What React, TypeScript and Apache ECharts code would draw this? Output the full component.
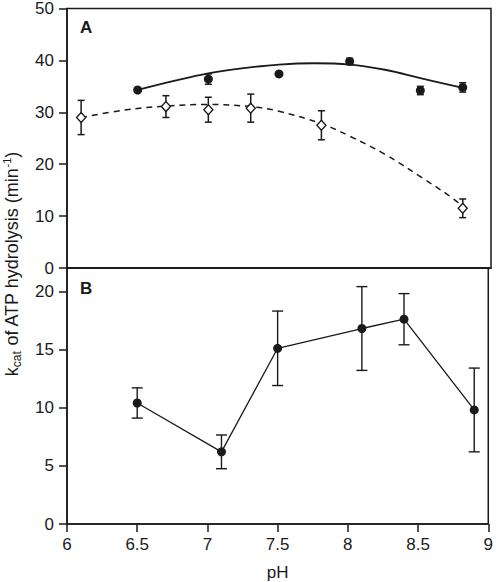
import React, { useEffect, useRef } from "react";
import * as echarts from "echarts";

// Panel A: filled circles (solid fit) and open diamonds (dashed fit)
const phAFilled = [6.5, 7.0, 7.5, 8.0, 8.5, 8.8];
const kcatAFilled = [34.3, 36.4, 37.4, 39.8, 34.2, 34.8];
const errAFilled = [0.3, 1.0, 0.3, 0.6, 0.8, 0.9];

const phAOpen = [6.1, 6.7, 7.0, 7.3, 7.8, 8.8];
const kcatAOpen = [29.0, 31.1, 30.5, 30.8, 27.5, 11.5];
const errAOpen = [3.3, 2.1, 2.4, 2.7, 2.8, 1.8];

// Fitted curves
const fitSolidPh = [6.5, 6.75, 7.0, 7.25, 7.5, 7.75, 8.0, 8.25, 8.5, 8.8];
const fitSolid = [34.3, 36.0, 37.5, 38.5, 39.2, 39.45, 39.2, 38.2, 36.6, 34.7];
const fitDashPh = [6.1, 6.4, 6.7, 7.0, 7.3, 7.5, 7.8, 8.0, 8.25, 8.5, 8.7, 8.8];
const fitDash = [29.0, 30.4, 31.2, 31.5, 31.1, 30.2, 27.8, 25.4, 21.9, 17.6, 14.0, 11.9];

// Panel B
const phB = [6.5, 7.1, 7.5, 8.1, 8.4, 8.9];
const kcatB = [10.4, 6.2, 15.1, 16.8, 17.6, 9.8];
const errB = [1.3, 1.45, 3.2, 3.6, 2.2, 3.6];

// Axis ticks
const xTicks = { min: 6, max: 9, interval: 0.5 };
const yTicksA = { min: 0, max: 50, interval: 10 };
const yTicksB = { min: 0, max: 22, interval: 5 };

const INK = "#1a1a1a";
const FONT = "Liberation Sans";

function zip(xs: number[], ys: number[], es?: number[]) {
  return xs.map((x, i) => (es ? [x, ys[i], es[i]] : [x, ys[i]]));
}

function errorRenderer(capW: number, lw: number) {
  return (params: any, api: any) => {
    const x = api.value(0);
    const y = api.value(1);
    const e = api.value(2);
    const top = api.coord([x, y + e]);
    const bot = api.coord([x, y - e]);
    const hw = capW / 2;
    const style = { stroke: INK, lineWidth: lw };
    return {
      type: "group",
      children: [
        { type: "line", shape: { x1: top[0], y1: top[1], x2: bot[0], y2: bot[1] }, style },
        { type: "line", shape: { x1: top[0] - hw, y1: top[1], x2: top[0] + hw, y2: top[1] }, style },
        { type: "line", shape: { x1: bot[0] - hw, y1: bot[1], x2: bot[0] + hw, y2: bot[1] }, style },
      ],
    };
  };
}

export default function App() {
  const ref = useRef<HTMLDivElement>(null);
  useEffect(() => {
    if (!ref.current) return;
    const chart = echarts.init(ref.current, undefined, { renderer: "svg" });
    const axisLine = { show: true, lineStyle: { color: INK, width: 1.5 } };
    const labelStyle = { fontFamily: FONT, fontSize: 17, color: INK };
    chart.setOption({
      animation: false,
      backgroundColor: "#fff",
      grid: [
        { left: 67, right: 5, top: 7, height: 261, show: true, borderColor: INK, borderWidth: 1.5, backgroundColor: "transparent" },
        { left: 67, right: 5, top: 268, height: 259, show: true, borderColor: INK, borderWidth: 1.5, backgroundColor: "transparent" },
      ],
      xAxis: [
        {
          type: "value", gridIndex: 0, ...xTicks,
          axisLine, axisTick: { show: false }, axisLabel: { show: false }, splitLine: { show: false },
        },
        {
          type: "value", gridIndex: 1, ...xTicks,
          axisLine,
          axisTick: { show: true, inside: false, length: 8, lineStyle: { color: INK, width: 1.5 } },
          axisLabel: { ...labelStyle, margin: 12 },
          splitLine: { show: false },
          name: "pH", nameLocation: "middle", nameGap: 40,
          nameTextStyle: { fontFamily: FONT, fontSize: 17, color: INK },
        },
      ],
      yAxis: [
        {
          type: "value", gridIndex: 0, ...yTicksA,
          axisLine,
          axisTick: { show: true, inside: false, length: 8, lineStyle: { color: INK, width: 1.5 } },
          axisLabel: { ...labelStyle, margin: 13 },
          splitLine: { show: false },
        },
        {
          type: "value", gridIndex: 1, ...yTicksB,
          axisLine,
          axisTick: { show: true, inside: false, length: 8, lineStyle: { color: INK, width: 1.5 } },
          axisLabel: { ...labelStyle, margin: 13, showMaxLabel: false,
            formatter: (v: number) => (v % 5 === 0 ? String(v) : "") },
          splitLine: { show: false },
        },
      ],
      graphic: [
        {
          type: "text", x: 80, y: 27.5,
          style: { text: "A", fontFamily: FONT, fontSize: 17, fontWeight: "bold", fill: INK, align: "left", verticalAlign: "middle" },
        },
        {
          type: "text", x: 80, y: 288.5,
          style: { text: "B", fontFamily: FONT, fontSize: 17, fontWeight: "bold", fill: INK, align: "left", verticalAlign: "middle" },
        },
        {
          type: "text", x: 12, y: 264, rotation: Math.PI / 2,
          style: {
            text: "{n|k}{sub|cat}{n| of ATP hydrolysis (min}{sup|-1}{n|)}",
            align: "center", verticalAlign: "middle", fill: INK,
            fontFamily: FONT, fontSize: 18,
            rich: {
              n: { fontFamily: FONT, fontSize: 18, lineHeight: 22, color: INK, fill: INK },
              sub: { fontFamily: FONT, fontSize: 12, lineHeight: 12, verticalAlign: "bottom", color: INK, fill: INK },
              sup: { fontFamily: FONT, fontSize: 11, lineHeight: 11, verticalAlign: "top", color: INK, fill: INK },
            },
          },
        },
      ],
      series: [
        {
          type: "line", xAxisIndex: 0, yAxisIndex: 0, data: zip(fitSolidPh, fitSolid),
          smooth: 0.4, showSymbol: false, lineStyle: { color: INK, width: 1.8 }, z: 2,
        },
        {
          type: "line", xAxisIndex: 0, yAxisIndex: 0, data: zip(fitDashPh, fitDash),
          smooth: 0.4, showSymbol: false, lineStyle: { color: INK, width: 1.5, type: [6, 5] }, z: 2,
        },
        {
          type: "custom", xAxisIndex: 0, yAxisIndex: 0, data: zip(phAFilled, kcatAFilled, errAFilled),
          encode: { x: 0, y: 1 }, renderItem: errorRenderer(7, 1.5), z: 3,
        },
        {
          type: "custom", xAxisIndex: 0, yAxisIndex: 0, data: zip(phAOpen, kcatAOpen, errAOpen),
          encode: { x: 0, y: 1 }, renderItem: errorRenderer(7, 1.5), z: 3,
        },
        {
          type: "scatter", xAxisIndex: 0, yAxisIndex: 0, data: zip(phAFilled, kcatAFilled),
          symbol: "circle", symbolSize: 9, itemStyle: { color: INK, opacity: 1 }, z: 4,
        },
        {
          type: "scatter", xAxisIndex: 0, yAxisIndex: 0, data: zip(phAOpen, kcatAOpen),
          symbol: "diamond", symbolSize: [9, 10],
          itemStyle: { color: "#fff", borderColor: INK, borderWidth: 1.4, opacity: 1 }, z: 4,
        },
        {
          type: "custom", xAxisIndex: 1, yAxisIndex: 1, data: zip(phB, kcatB, errB),
          encode: { x: 0, y: 1 }, renderItem: errorRenderer(11, 1.4), z: 3,
        },
        {
          type: "line", xAxisIndex: 1, yAxisIndex: 1, data: zip(phB, kcatB),
          symbol: "circle", symbolSize: 9, showSymbol: true,
          lineStyle: { color: INK, width: 1.3 }, itemStyle: { color: INK, opacity: 1 }, z: 4,
        },
      ],
    });
    return () => chart.dispose();
  }, []);
  return (
    <div
      ref={ref}
      style={{ position: "absolute", left: 0, top: 0, width: 496, height: 582 }}
    />
  );
}
